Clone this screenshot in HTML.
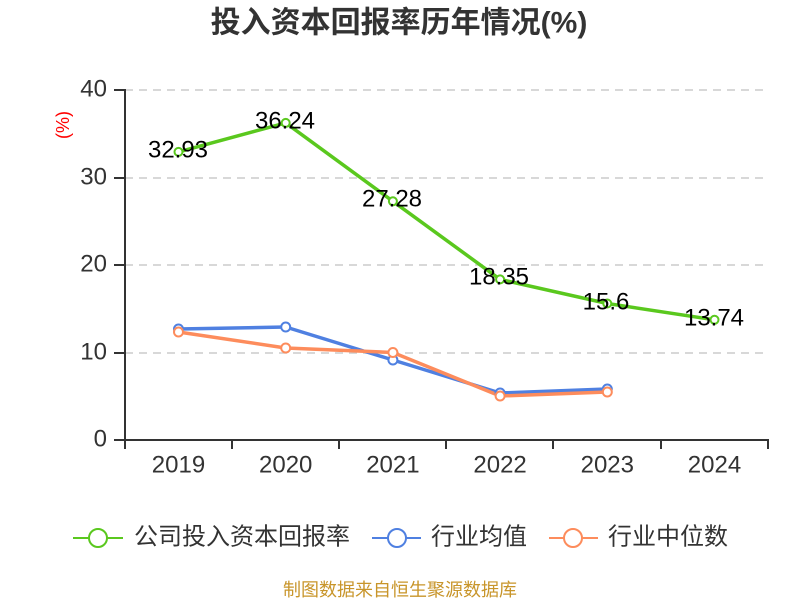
<!DOCTYPE html>
<html><head><meta charset="utf-8"><style>
html,body{margin:0;padding:0;background:#fff;}
svg{display:block;}
text{font-family:"Liberation Sans","Noto Sans CJK SC",sans-serif;}
</style></head><body>
<svg width="800" height="600" viewBox="0 0 800 600" xmlns="http://www.w3.org/2000/svg">
<text x="399" y="23" text-anchor="middle" dominant-baseline="central" font-size="30" font-weight="bold" fill="#333">投入资本回报率历年情况(%)</text>
<g stroke="#ccc" stroke-width="1.5" stroke-dasharray="8,6">
<line x1="125" y1="90" x2="768" y2="90"/>
<line x1="125" y1="178" x2="768" y2="178"/>
<line x1="125" y1="265" x2="768" y2="265"/>
<line x1="125" y1="353" x2="768" y2="353"/>
</g>
<g stroke="#333" stroke-width="2">
<line x1="125" y1="89" x2="125" y2="441"/>
<line x1="114" y1="90" x2="125" y2="90"/>
<line x1="114" y1="178" x2="125" y2="178"/>
<line x1="114" y1="265" x2="125" y2="265"/>
<line x1="114" y1="353" x2="125" y2="353"/>
<line x1="114" y1="440" x2="125" y2="440"/>
<line x1="124" y1="440" x2="769" y2="440"/>
<line x1="125" y1="440" x2="125" y2="449"/>
<line x1="232" y1="440" x2="232" y2="449"/>
<line x1="339" y1="440" x2="339" y2="449"/>
<line x1="446" y1="440" x2="446" y2="449"/>
<line x1="553" y1="440" x2="553" y2="449"/>
<line x1="661" y1="440" x2="661" y2="449"/>
<line x1="768" y1="440" x2="768" y2="449"/>
</g>
<g font-size="24" fill="#333" text-anchor="end" dominant-baseline="central">
<text x="107" y="89">40</text>
<text x="107" y="177">30</text>
<text x="107" y="264">20</text>
<text x="107" y="352">10</text>
<text x="107" y="439">0</text>
</g>
<g font-size="24" fill="#333" text-anchor="middle" dominant-baseline="central">
<text x="178.5" y="465">2019</text>
<text x="285.7" y="465">2020</text>
<text x="392.9" y="465">2021</text>
<text x="500.1" y="465">2022</text>
<text x="607.3" y="465">2023</text>
<text x="714.5" y="465">2024</text>
</g>
<text transform="translate(63,125) rotate(-90)" font-size="18" fill="#f00" text-anchor="middle" dominant-baseline="central">(%)</text>
<g fill="none" stroke-width="3.5" stroke-linejoin="round">
<polyline stroke="#5ac81e" points="178.5,151.9 285.7,122.9 392.9,201.3 500.1,279.4 607.3,303.5 714.5,319.8"/>
<polyline stroke="#4f80e1" points="178.5,329 285.7,327 392.9,360 500.1,393 607.3,389"/>
<polyline stroke="#fd8c5c" points="178.5,332 285.7,348 392.9,352.5 500.1,396 607.3,392"/>
</g>
<g fill="#fff" stroke-width="2">
<g stroke="#5ac81e">
<circle cx="178.5" cy="151.9" r="4"/><circle cx="285.7" cy="122.9" r="4"/><circle cx="392.9" cy="201.3" r="4"/><circle cx="500.1" cy="279.4" r="4"/><circle cx="607.3" cy="303.5" r="4"/><circle cx="714.5" cy="319.8" r="4"/>
</g>
<g stroke="#4f80e1">
<circle cx="178.5" cy="329" r="4.5"/><circle cx="285.7" cy="327" r="4.5"/><circle cx="392.9" cy="360" r="4.5"/><circle cx="500.1" cy="393" r="4.5"/><circle cx="607.3" cy="389" r="4.5"/>
</g>
<g stroke="#fd8c5c">
<circle cx="178.5" cy="332" r="4.5"/><circle cx="285.7" cy="348" r="4.5"/><circle cx="392.9" cy="352.5" r="4.5"/><circle cx="500.1" cy="396" r="4.5"/><circle cx="607.3" cy="392" r="4.5"/>
</g>
</g>
<g font-size="24" fill="#000" text-anchor="middle" dominant-baseline="central">
<text x="178" y="150">32.93</text>
<text x="285" y="121">36.24</text>
<text x="392" y="199">27.28</text>
<text x="499" y="277">18.35</text>
<text x="606" y="302">15.6</text>
<text x="714" y="318">13.74</text>
</g>
<g stroke-width="2" fill="#fff">
<line x1="73" y1="538" x2="123" y2="538" stroke="#5ac81e"/>
<circle cx="98" cy="538" r="9" stroke="#5ac81e"/>
<line x1="372" y1="538" x2="421" y2="538" stroke="#4f80e1"/>
<circle cx="397" cy="538" r="9" stroke="#4f80e1"/>
<line x1="549" y1="538" x2="598" y2="538" stroke="#fd8c5c"/>
<circle cx="573" cy="538" r="9" stroke="#fd8c5c"/>
</g>
<g font-size="24" fill="#333" dominant-baseline="central">
<text x="134" y="537">公司投入资本回报率</text>
<text x="431" y="537">行业均值</text>
<text x="608" y="537">行业中位数</text>
</g>
<text x="400" y="590" text-anchor="middle" dominant-baseline="central" font-size="18" fill="#c8952a">制图数据来自恒生聚源数据库</text>
</svg>
</body></html>
